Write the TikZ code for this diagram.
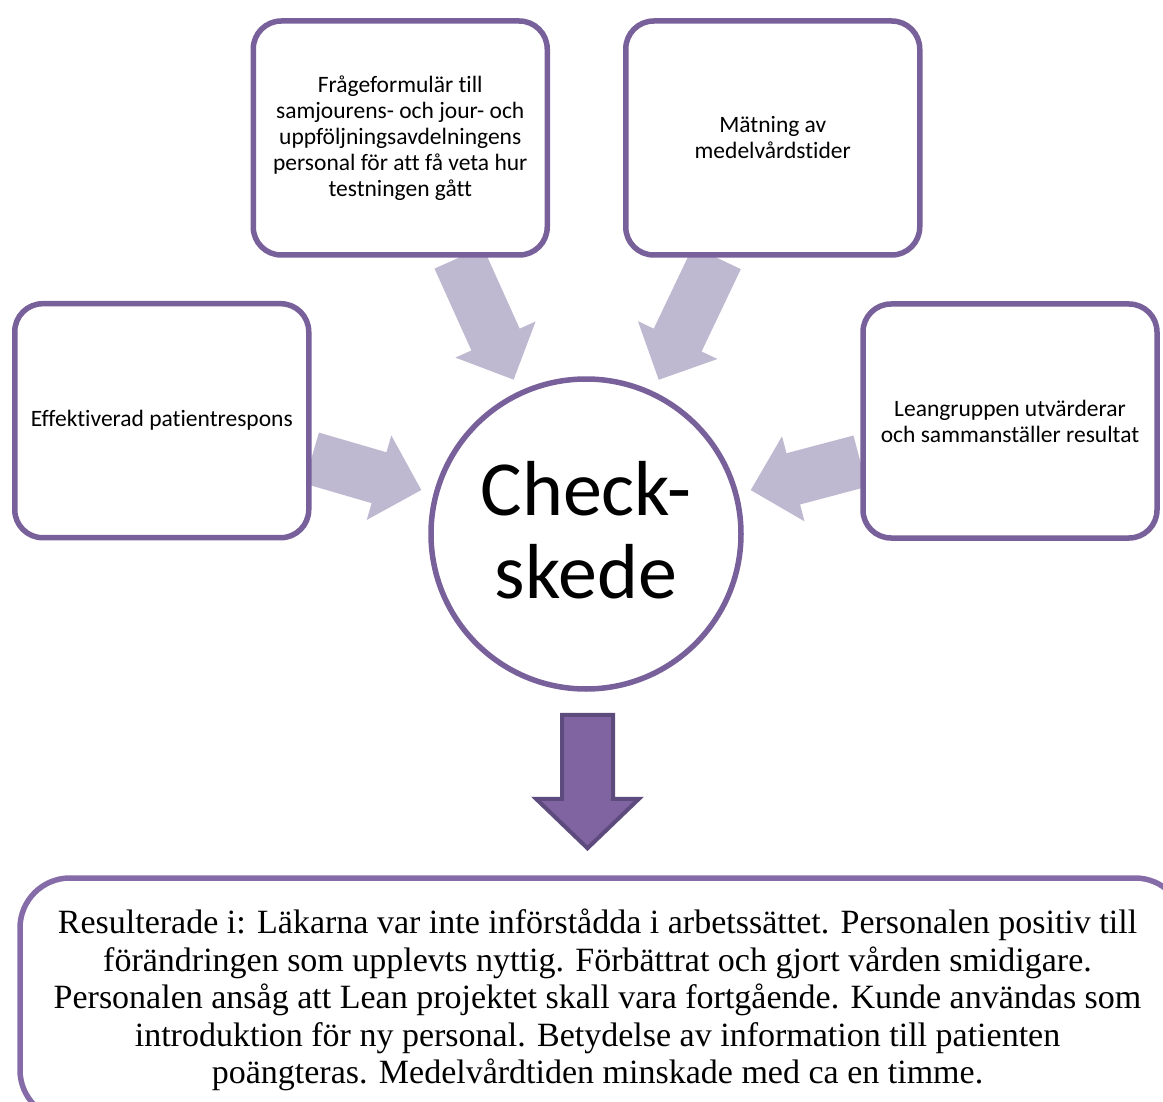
\documentclass[tikz,border=0pt]{standalone}
\usepackage{fontspec}
\setmainfont{Liberation Serif}
\newfontfamily\calibri[Ligatures=NoCommon]{Carlito}
\usetikzlibrary{calc,backgrounds}

\definecolor{boxline}{RGB}{120,96,154}
\definecolor{resline}{RGB}{133,108,168}
\definecolor{feedarrow}{RGB}{191,184,209}
\definecolor{downfill}{RGB}{128,100,162}
\definecolor{downline}{RGB}{94,75,126}

\begin{document}
\begin{tikzpicture}[x=1pt,y=-1pt,
  inputbox/.style={draw=boxline, line width=5.5pt, fill=white, rounded corners=28pt,
    minimum width=294pt, minimum height=234pt, inner sep=0pt, align=center,
    font=\calibri\fontsize{23.5}{26}\selectfont},
  hub/.style={circle, draw=boxline, line width=5.5pt, fill=white, minimum size=310pt,
    inner sep=0pt, font=\calibri\fontsize{78}{83}\selectfont},
  resultbox/.style={draw=resline, line width=5.5pt, rounded corners=50pt, fill=white,
    minimum width=1165pt, minimum height=242pt, inner sep=0pt},
  resulttext/.style={align=center, inner sep=0pt, font=\fontsize{34}{37.5}\selectfont},
  feed/.style={fill=feedarrow},
  downarrow/.style={fill=downfill, draw=downline, line width=4pt, line join=miter}]

\useasboundingbox (0,0) rectangle (1163,1102);
\clip (0,0) rectangle (1163,1102);

% input boxes around the hub
\node[inputbox] (tl) at (400.25,138) {Frågeformulär till\\samjourens- och jour- och\\uppföljningsavdelningens\\personal för att få veta hur\\testningen gått};
\node[inputbox] (tr) at (772.75,138) {Mätning av\\medelvårdstider};
\node[inputbox] (bl) at (161.75,420.7) {Effektiverad patientrespons};
\node[inputbox] (br) at (1010,421) {Leangruppen utvärderar\\och sammanställer resultat};

% central stage (text set a little below the geometric centre)
\node[hub] (circ) at (586,534)
  {\raisebox{-6pt}[\height][\depth]{\begin{tabular}{@{}c@{}}Check-\\skede\end{tabular}}};

% block arrows from each box towards the hub
\begin{scope}[on background layer]
\foreach \b in {tl,tr,bl,br}{
  \path let \p1=($(circ)-(\b)$), \n1={atan2(\y1,\x1)} in coordinate (tail-\b) at (\b.\n1);
  \coordinate (tip-\b) at ($(circ)!170.5pt!(\b)$);
  \coordinate (neck-\b) at ($(tip-\b)!44pt!(tail-\b)$);
  \fill[feed] ($(tail-\b)!26.5pt!90:(tip-\b)$) -- ($(neck-\b)!26.5pt!90:(tip-\b)$)
    -- ($(neck-\b)!44pt!90:(tip-\b)$) -- (tip-\b) -- ($(neck-\b)!44pt!-90:(tip-\b)$)
    -- ($(neck-\b)!26.5pt!-90:(tip-\b)$) -- ($(tail-\b)!26.5pt!-90:(tip-\b)$) -- cycle;
}
\end{scope}

% result box
\node[resultbox] (res) at (602.5,999) {};
\node[resulttext] (restext) at (597.5,1000) {Resulterade i: Läkarna var inte införstådda i arbetssättet. Personalen positiv till\\förändringen som upplevts nyttig. Förbättrat och gjort vården smidigare.\\Personalen ansåg att Lean projektet skall vara fortgående. Kunde användas som\\introduktion för ny personal. Betydelse av information till patienten\\poängteras. Medelvårdtiden minskade med ca en timme.};

% arrow from the hub down to the result
\coordinate (dtop) at ($(circ.south)+(1.5,23)$);
\draw[downarrow] ($(dtop)+(-25.5,0)$) -- ($(dtop)+(25.5,0)$) -- ($(dtop)+(25.5,84)$)
  -- ($(dtop)+(51.5,84)$) -- ($(dtop)+(0,133.5)$) -- ($(dtop)+(-51.5,84)$)
  -- ($(dtop)+(-25.5,84)$) -- cycle;
\end{tikzpicture}
\end{document}
